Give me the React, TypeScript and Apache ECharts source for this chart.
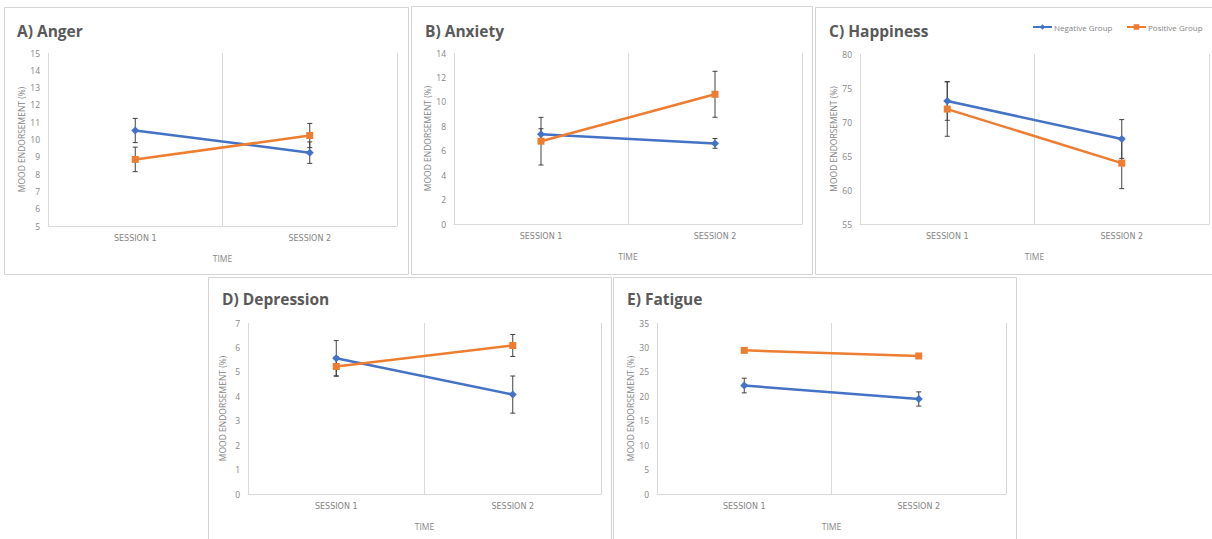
import React, { useEffect, useRef } from "react";
import * as echarts from "echarts";

const categories = ["SESSION 1", "SESSION 2"];
const seriesNames = ["Negative Group", "Positive Group"];
const panelTitles = ["A) Anger", "B) Anxiety", "C) Happiness", "D) Depression", "E) Fatigue"];
const yMins = [5, 0, 55, 0, 0];
const yMaxs = [15, 14, 80, 7, 35];
const yIntervals = [1, 2, 5, 1, 5];

const angerNegative = [10.52, 9.24];
const angerNegativeErr = [0.7, 0.62];
const angerPositive = [8.85, 10.23];
const angerPositiveErr = [0.71, 0.7];

const anxietyNegative = [7.35, 6.6];
const anxietyNegativeErr = [0.45, 0.4];
const anxietyPositive = [6.78, 10.62];
const anxietyPositiveErr = [1.95, 1.88];

const happinessNegative = [73.1, 67.5];
const happinessNegativeErr = [2.85, 2.85];
const happinessPositive = [71.9, 63.95];
const happinessPositiveErr = [4.0, 3.75];

const depressionNegative = [5.56, 4.07];
const depressionNegativeErr = [0.72, 0.76];
const depressionPositive = [5.22, 6.08];
const depressionPositiveErr = [0.4, 0.45];

const fatigueNegative = [22.2, 19.45];
const fatigueNegativeErr = [1.5, 1.45];
const fatiguePositive = [29.4, 28.25];
const fatiguePositiveErr = [0.4, 0.4];

const negativeMeans = [angerNegative, anxietyNegative, happinessNegative, depressionNegative, fatigueNegative];
const negativeErrs = [angerNegativeErr, anxietyNegativeErr, happinessNegativeErr, depressionNegativeErr, fatigueNegativeErr];
const positiveMeans = [angerPositive, anxietyPositive, happinessPositive, depressionPositive, fatiguePositive];
const positiveErrs = [angerPositiveErr, anxietyPositiveErr, happinessPositiveErr, depressionPositiveErr, fatiguePositiveErr];

const BLUE = "#4472C4";
const ORANGE = "#ED7D31";
const GRAY = "#858585";
const GRID_LINE = "#d9d9d9";

// layout (pixels)
const grids = [
  { left: 48, top: 53, width: 349, height: 173 },
  { left: 454, top: 53, width: 348, height: 171 },
  { left: 860, top: 54, width: 349, height: 170 },
  { left: 248, top: 323, width: 353, height: 171 },
  { left: 657, top: 323, width: 349, height: 171 },
];
const panels = [
  { x: 4.5, y: 7.5, w: 404, h: 267 },
  { x: 411.5, y: 6.5, w: 401, h: 268 },
  { x: 815.5, y: 7.5, w: 410, h: 267 },
  { x: 208.5, y: 277.5, w: 403, h: 270 },
  { x: 613.5, y: 277.5, w: 403, h: 270 },
];
const titlePos = [
  { x: 17, y: 31 },
  { x: 425, y: 31 },
  { x: 829, y: 31 },
  { x: 222, y: 299 },
  { x: 627, y: 299 },
];
const legendLefts = [1032, 1126];

function errorRenderItem(params: any, api: any) {
  const x = api.value(0);
  const lo = api.coord([x, api.value(1)]);
  const hi = api.coord([x, api.value(2)]);
  const cap = 2.5;
  const style = { stroke: "#404040", lineWidth: 1 };
  return {
    type: "group",
    children: [
      { type: "line", shape: { x1: lo[0], y1: lo[1], x2: hi[0], y2: hi[1] }, style },
      { type: "line", shape: { x1: lo[0] - cap, y1: lo[1], x2: lo[0] + cap, y2: lo[1] }, style },
      { type: "line", shape: { x1: hi[0] - cap, y1: hi[1], x2: hi[0] + cap, y2: hi[1] }, style },
    ],
  };
}

export default function App() {
  const ref = useRef<HTMLDivElement>(null);
  useEffect(() => {
    document.body.style.margin = "0";
    if (!ref.current) return;
    const chart = echarts.init(ref.current, null, { renderer: "svg" });
    const xAxis: any[] = [];
    const yAxis: any[] = [];
    const series: any[] = [];
    const graphic: any[] = [];
    grids.forEach((g, i) => {
      xAxis.push({
        type: "category",
        gridIndex: i,
        data: categories,
        boundaryGap: true,
        axisLine: { show: true, lineStyle: { color: GRID_LINE, width: 1 } },
        axisTick: { show: false },
        splitLine: { show: true, lineStyle: { color: GRID_LINE, width: 1 } },
        axisLabel: { color: GRAY, fontSize: 8, fontFamily: "DejaVu Sans", margin: 8 },
        name: "TIME",
        nameLocation: "middle",
        nameGap: 28,
        nameTextStyle: { color: GRAY, fontSize: 8.5, fontFamily: "Open Sans" },
      });
      yAxis.push({
        type: "value",
        gridIndex: i,
        min: yMins[i],
        max: yMaxs[i],
        interval: yIntervals[i],
        axisLine: { show: false },
        axisTick: { show: false },
        splitLine: { show: false },
        axisLabel: { color: GRAY, fontSize: 8.5, fontFamily: "Open Sans", margin: 8 },
        name: "MOOD ENDORSEMENT (%)",
        nameLocation: "middle",
        nameRotate: 90,
        nameGap: 21,
        nameTextStyle: { color: GRAY, fontSize: 8.5, fontFamily: "Open Sans" },
      });
      const groups = [
        { name: seriesNames[0], means: negativeMeans[i], errs: negativeErrs[i], color: BLUE, symbol: "diamond", size: 8 },
        { name: seriesNames[1], means: positiveMeans[i], errs: positiveErrs[i], color: ORANGE, symbol: "rect", size: 7 },
      ];
      groups.forEach((gr) => {
        series.push({
          type: "custom",
          name: gr.name + " error",
          xAxisIndex: i,
          yAxisIndex: i,
          renderItem: errorRenderItem,
          encode: { x: 0, y: [1, 2] },
          data: gr.means.map((m, k) => [k, m - gr.errs[k], m + gr.errs[k]]),
          z: 3,
          silent: true,
        });
      });
      groups.forEach((gr) => {
        series.push({
          type: "line",
          name: gr.name,
          xAxisIndex: i,
          yAxisIndex: i,
          data: gr.means,
          symbol: gr.symbol,
          symbolSize: gr.size,
          showSymbol: true,
          lineStyle: { color: gr.color, width: 2.5 },
          itemStyle: { color: gr.color },
          z: 4,
        });
      });
      const p = panels[i];
      graphic.push({
        type: "rect",
        shape: { x: p.x, y: p.y, width: p.w, height: p.h },
        style: { fill: "none", stroke: "#d4d4d4", lineWidth: 1 },
        z: 0,
      });
      graphic.push({
        type: "text",
        x: titlePos[i].x,
        y: titlePos[i].y,
        style: {
          text: panelTitles[i],
          fill: "#595959",
          fontSize: 15.5,
          fontWeight: "bold",
          fontFamily: "Open Sans",
          verticalAlign: "middle",
        },
      });
    });
    chart.setOption({
      animation: false,
      backgroundColor: "#ffffff",
      grid: grids.map((g) => ({ ...g, containLabel: false })),
      xAxis,
      yAxis,
      series,
      graphic,
      legend: seriesNames.map((n, k) => ({
        data: [n],
        left: legendLefts[k],
        top: 23,
        padding: 0,
        orient: "horizontal",
        itemWidth: 19,
        itemHeight: 7,
        textStyle: { color: GRAY, fontSize: 8, fontFamily: "Open Sans", padding: [0, 0, 0, -3] },
      })),
    });
    return () => chart.dispose();
  }, []);
  return <div ref={ref} style={{ position: "absolute", left: 0, top: 0, width: 1212, height: 539 }} />;
}
